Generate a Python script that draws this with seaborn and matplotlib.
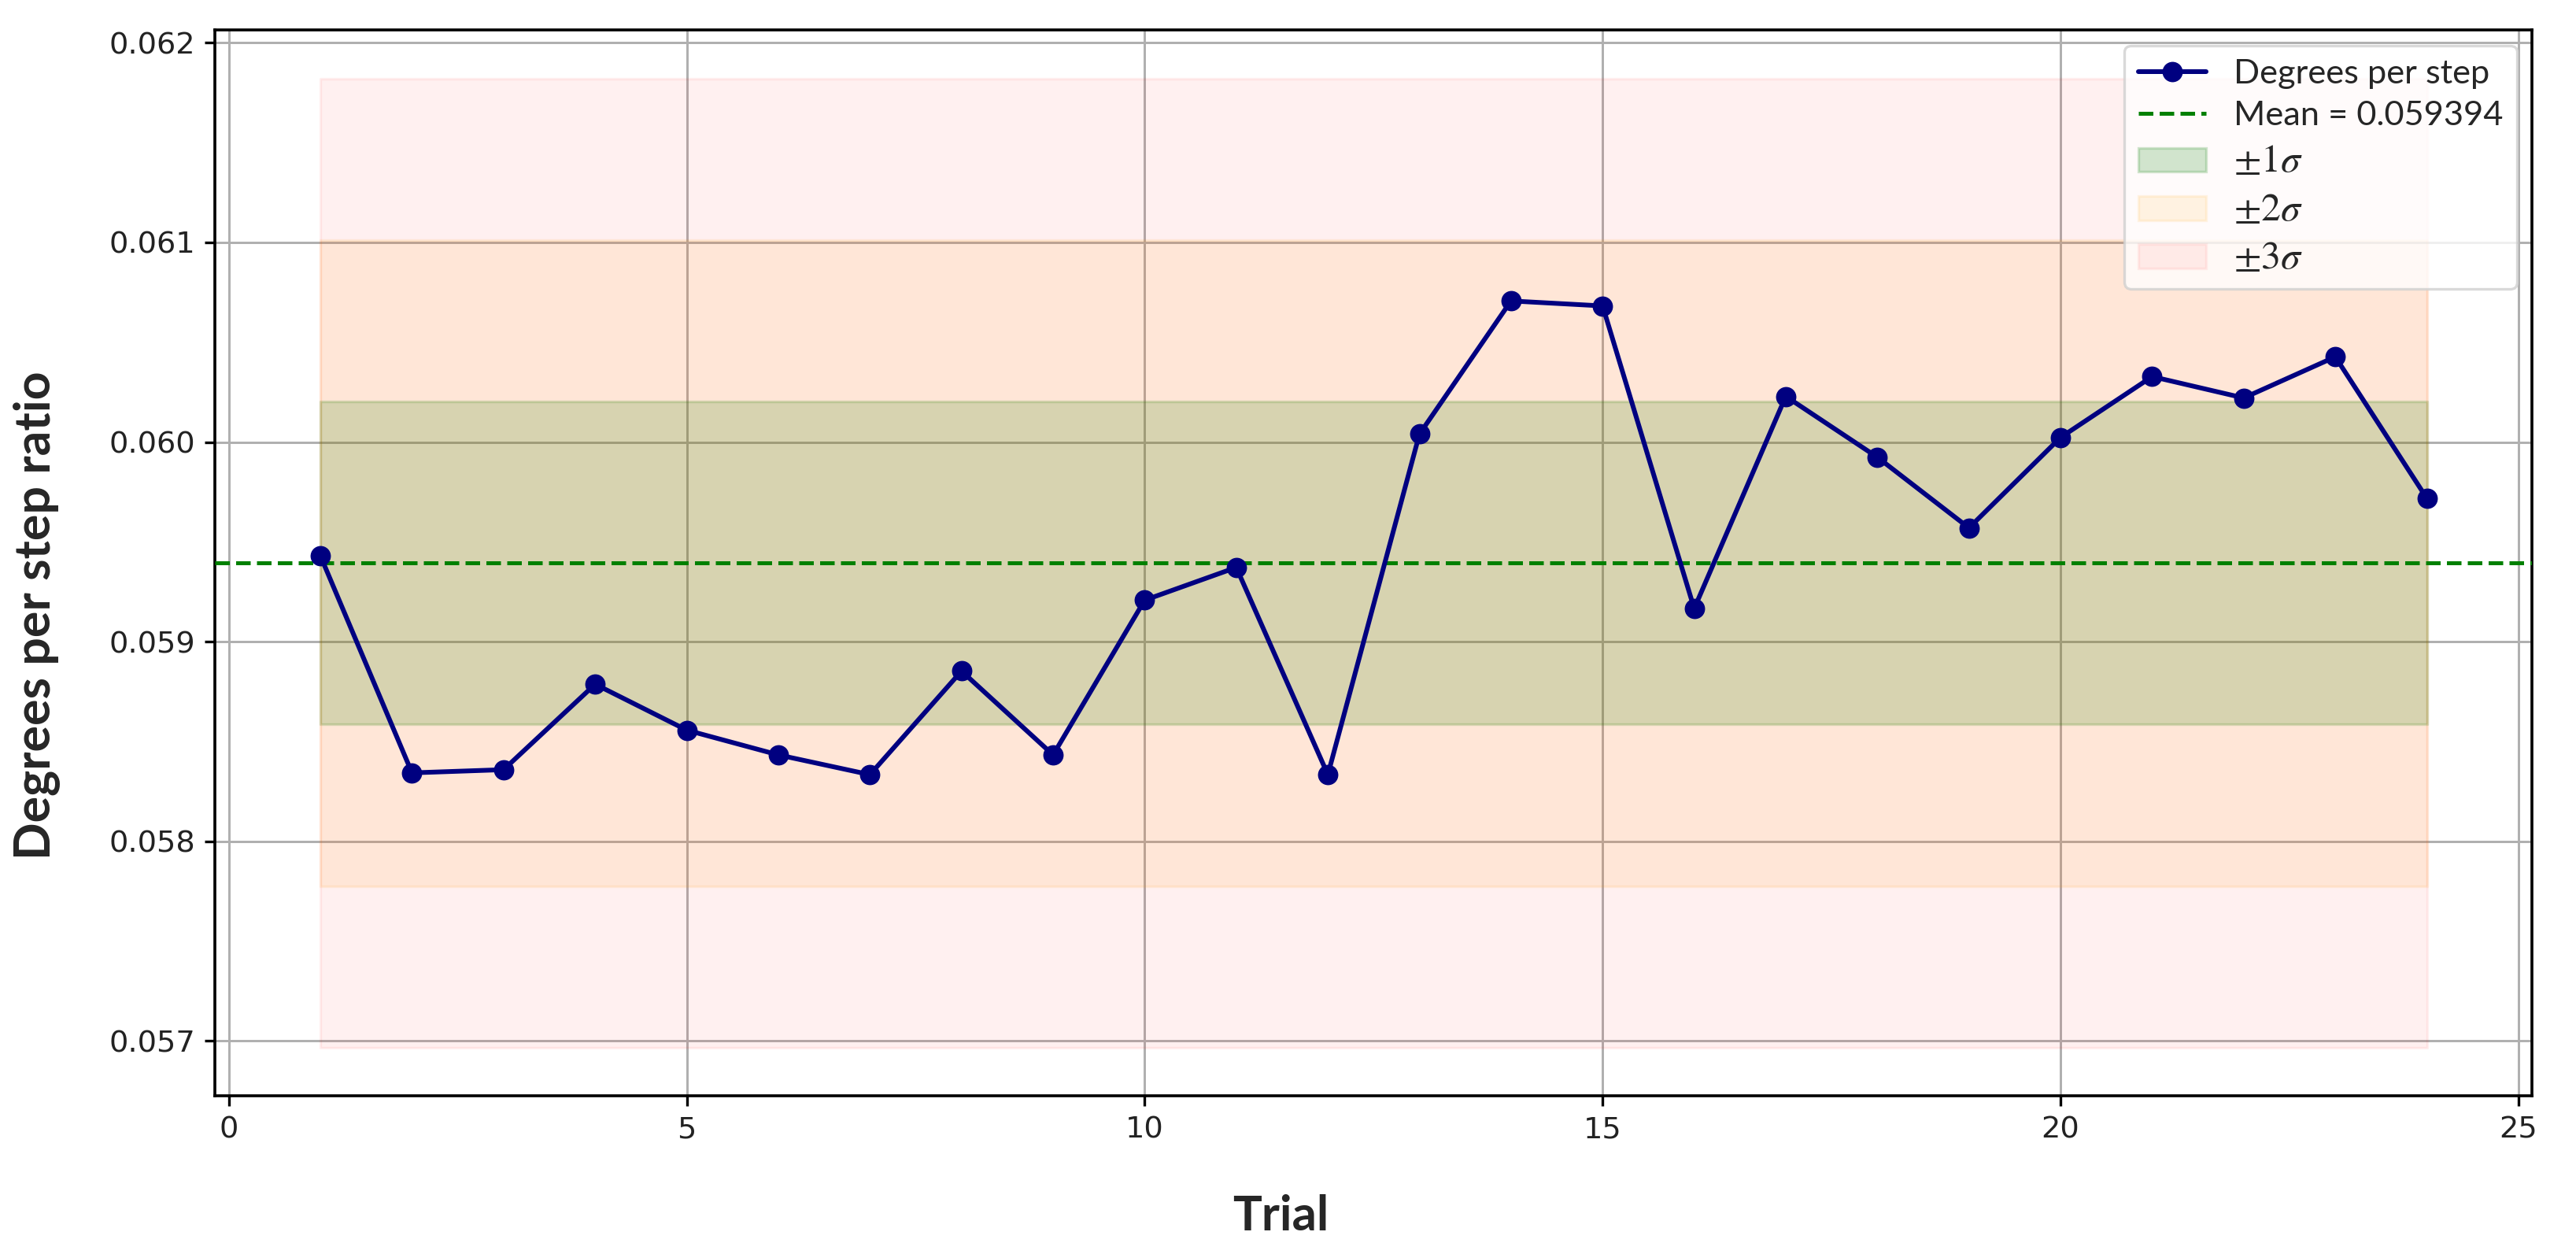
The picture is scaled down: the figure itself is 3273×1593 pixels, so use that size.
import matplotlib
matplotlib.use("Agg")
import matplotlib.pyplot as plt
from matplotlib.ticker import FormatStrFormatter
import seaborn as sns
import pandas as pd

# ---- data ----
trials = [1, 2, 3, 4, 5, 6, 7, 8, 9, 10, 11, 12,
          13, 14, 15, 16, 17, 18, 19, 20, 21, 22, 23, 24]
degrees_per_step = [0.059430, 0.058343, 0.058359, 0.058787, 0.058557, 0.058433,
                    0.058334, 0.058853, 0.058433, 0.059208, 0.059372, 0.058334,
                    0.060040, 0.060707, 0.060682, 0.059166, 0.060229, 0.059924,
                    0.059570, 0.060023, 0.060328, 0.060221, 0.060427, 0.059718]
mean_value = 0.059394
sigma_value = 0.000809
sigma_levels = [1, 2, 3]
band_colors = ["green", "orange", "red"]
band_alphas = [0.18, 0.10, 0.06]
band_labels = [r"$\pm1\sigma$", r"$\pm2\sigma$", r"$\pm3\sigma$"]
y_ticks = [0.057, 0.058, 0.059, 0.060, 0.061, 0.062]
x_ticks = [0, 5, 10, 15, 20, 25]

df = pd.DataFrame({"Trial": trials, "Degrees per step": degrees_per_step})

sns.set_theme(style="ticks")
plt.rcParams["font.family"] = ["DejaVu Sans"]
plt.rcParams["mathtext.fontset"] = "stix"

DPI = 240
fig, ax = plt.subplots(figsize=(3273 / DPI, 1593 / DPI), dpi=DPI)
fig.subplots_adjust(left=0.0835, right=0.983, bottom=0.126, top=0.976)

sns.lineplot(data=df, x="Trial", y="Degrees per step", ax=ax,
             color="navy", marker="o", markersize=7, markeredgecolor="navy",
             linewidth=1.8, label="Degrees per step", zorder=5)
ax.axhline(mean_value, color="green", linestyle="--", linewidth=1.5,
           label=f"Mean = {mean_value:.6f}", zorder=4)
for k, c, a, lab in zip(sigma_levels, band_colors, band_alphas, band_labels):
    ax.fill_between([trials[0], trials[-1]],
                    mean_value - k * sigma_value, mean_value + k * sigma_value,
                    color=c, alpha=a, label=lab, zorder=1)

ax.set_xticks(x_ticks)
ax.set_yticks(y_ticks)
ax.yaxis.set_major_formatter(FormatStrFormatter("%.3f"))
ax.margins(x=0.05, y=0.05)
ax.grid(True, color="#b0b0b0", linewidth=0.9)
for s in ax.spines.values():
    s.set_visible(True)
    s.set_color("black")
    s.set_linewidth(1.1)
ax.tick_params(axis="both", labelsize=11.5, colors="black", length=4, width=1)
for t in ax.get_xticklabels() + ax.get_yticklabels():
    t.set_color("#222222")
    t.set_family(["DejaVu Sans"])

ax.set_xlabel("Trial", fontsize=18.5, fontweight="bold", family=["Lato", "DejaVu Sans"])
ax.set_ylabel("Degrees per step ratio", fontsize=18.8, fontweight="bold",
              family=["Lato", "DejaVu Sans"])
ax.xaxis.set_label_coords(0.46, -0.092)
ax.yaxis.set_label_coords(-0.067, 0.451)

leg = ax.legend(loc="upper right", framealpha=0.8, edgecolor="#d0d0d0",
                borderaxespad=0.45, labelspacing=0.35,
                prop={"family": ["Lato", "DejaVu Sans"], "size": 13})
for t in leg.get_texts()[2:]:
    t.set_fontsize(15)

fig.savefig("out.png", dpi=DPI)
